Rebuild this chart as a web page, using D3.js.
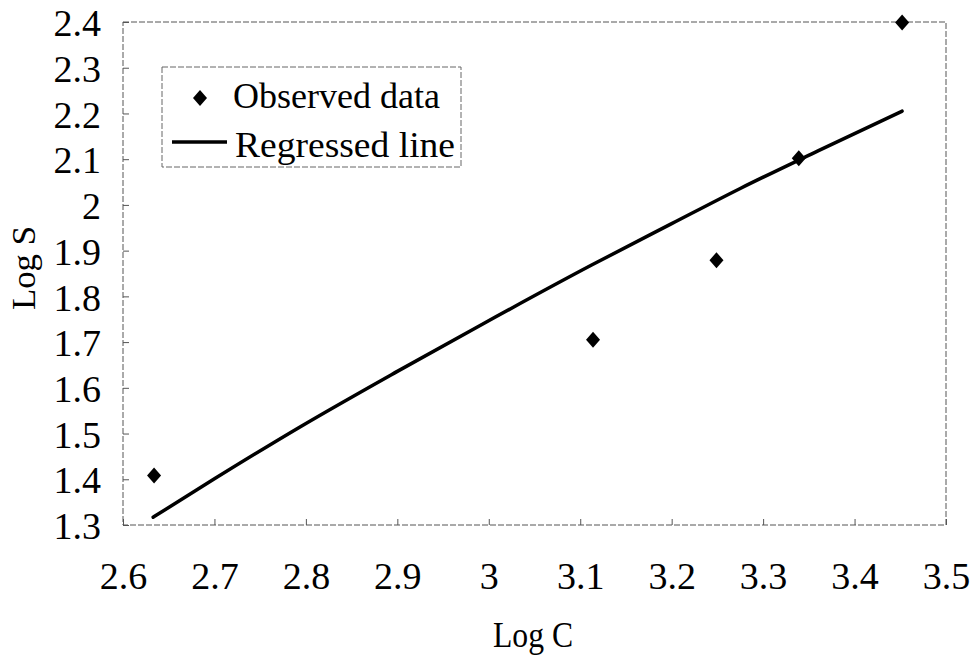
<!DOCTYPE html>
<html>
<head>
<meta charset="utf-8">
<script src="https://cdn.jsdelivr.net/npm/d3@7"></script>
<style>
  body { margin: 0; background: #fff; }
  svg { display: block; }
  svg text { font-family: "Liberation Serif", "DejaVu Serif", serif !important; fill: #000; }
</style>
</head>
<body>
<svg id="chart" width="979" height="657"></svg>
<script>
// observed points (Log C, Log S)
const obsX = [2.634, 3.114, 3.249, 3.339, 3.452]
const obsY = [1.408, 1.705, 1.879, 2.102, 2.399]
// regressed curve
const fitX = [2.633, 2.700, 2.794, 2.900, 2.991, 3.113, 3.200, 3.275, 3.360, 3.452]
const fitY = [1.317, 1.401, 1.515, 1.636, 1.737, 1.869, 1.959, 2.036, 2.118, 2.205]
const xTicks = [2.6, 2.7, 2.8, 2.9, 3, 3.1, 3.2, 3.3, 3.4, 3.5]
const yTicks = [1.3, 1.4, 1.5, 1.6, 1.7, 1.8, 1.9, 2, 2.1, 2.2, 2.3, 2.4]

const svg = d3.select('#chart')
const m = { left: 123, top: 22, right: 946, bottom: 525 }

const x = d3.scaleLinear().domain([2.6, 3.5]).range([m.left, m.right])
const y = d3.scaleLinear().domain([1.3, 2.4]).range([m.bottom, m.top])

// frame
svg.append('rect')
  .attr('x', m.left).attr('y', m.top)
  .attr('width', m.right - m.left).attr('height', m.bottom - m.top)
  .style('fill', 'none').style('stroke', '#555').style('stroke-width', 1)
  .style('stroke-dasharray', '6,2')

const xAxis = svg.append('g').attr('transform', `translate(0,${m.bottom})`)
  .call(d3.axisBottom(x).tickValues(xTicks).tickSizeInner(-6).tickSizeOuter(0)
    .tickPadding(37).tickFormat(d => String(d)))
const yAxis = svg.append('g').attr('transform', `translate(${m.left},0)`)
  .call(d3.axisLeft(y).tickValues(yTicks).tickSizeInner(-6).tickSizeOuter(0)
    .tickPadding(22).tickFormat(d => String(d)))

;[xAxis, yAxis].forEach(a => {
  a.attr('font-family', null).attr('font-size', null)
  a.select('.domain').remove()
  a.selectAll('line').style('stroke', '#555')
  a.selectAll('text').style('font-size', '38px')
})
yAxis.selectAll('text').attr('dy', '0.36em')

// axis titles
svg.append('text')
  .attr('x', 533).attr('y', 647)
  .attr('text-anchor', 'middle')
  .attr('textLength', 80).attr('lengthAdjust', 'spacingAndGlyphs')
  .style('font-size', '35px')
  .text('Log C')

svg.append('text')
  .attr('transform', 'translate(35,268) rotate(-90)')
  .attr('text-anchor', 'middle')
  .attr('textLength', 84).attr('lengthAdjust', 'spacingAndGlyphs')
  .style('font-size', '33px')
  .text('Log S')

// regressed line
const line = d3.line().curve(d3.curveMonotoneX)
  .x((d, i) => x(fitX[i])).y((d, i) => y(fitY[i]))
svg.append('path')
  .datum(fitX)
  .attr('d', line)
  .style('fill', 'none').style('stroke', '#000').style('stroke-width', 3.5)
  .style('stroke-linecap', 'round')

// observed points
const diamond = 'M0,-8L7,0L0,8L-7,0Z'
svg.append('g').selectAll('path')
  .data(obsX).enter().append('path')
  .attr('transform', (d, i) => `translate(${x(d)},${y(obsY[i])})`)
  .attr('d', diamond)
  .style('fill', '#000')

// legend
const lg = svg.append('g')
lg.append('rect')
  .attr('x', 162).attr('y', 67).attr('width', 299).attr('height', 100)
  .style('fill', '#fff').style('stroke', '#666').style('stroke-width', 1)
  .style('stroke-dasharray', '6,2')
lg.append('path').attr('transform', 'translate(200,98)').attr('d', diamond).style('fill', '#000')
lg.append('line').attr('x1', 172).attr('x2', 227).attr('y1', 142).attr('y2', 142)
  .style('stroke', '#000').style('stroke-width', 3.5)
lg.append('text').attr('x', 233).attr('y', 108)
  .attr('textLength', 207).attr('lengthAdjust', 'spacingAndGlyphs')
  .style('font-size', '36px').text('Observed data')
lg.append('text').attr('x', 235).attr('y', 157)
  .attr('textLength', 220).attr('lengthAdjust', 'spacingAndGlyphs')
  .style('font-size', '36px').text('Regressed line')
</script>
</body>
</html>
